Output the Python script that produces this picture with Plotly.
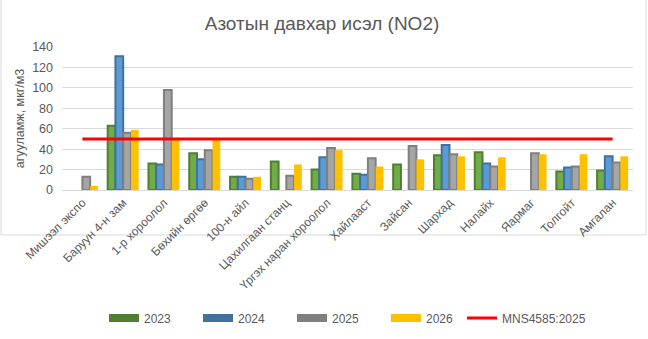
import plotly.graph_objects as go

# Monitoring stations and annual mean NO2 concentrations
stations = [
    "Мишээл экспо", "Баруун 4-н зам", "1-р хороолол", "Бөхийн өргөө",
    "100-н айл", "Цахилгаан станц", "Үргэх наран хороолол", "Хайлааст",
    "Зайсан", "Шархад", "Налайх", "Яармаг", "Толгойт", "Амгалан",
]
no2_2023 = [None, 63, 26, 36, 13, 28, 20, 16, 25, 34, 37, None, 18, 19]
no2_2024 = [None, 131, 25, 30, 13, None, 32, 15, None, 44, 26, None, 22, 33]
no2_2025 = [13, 56, 98, 39, 11, 14, 41, 31, 43, 35, 23, 36, 23, 27]
no2_2026 = [4, 59, 50, 49, 13, 25, 39, 23, 30, 33, 32, 35, 35, 33]
standard_name = "MNS4585:2025"
standard_value = [50] * len(stations)

y_ticks = [0, 20, 40, 60, 80, 100, 120, 140]

FONT = "Liberation Sans"
TXT = "#595959"

series = [
    ("2023", no2_2023, "#70AD47", "#507E32", 2),
    ("2024", no2_2024, "#5B9BD5", "#41719C", 2),
    ("2025", no2_2025, "#A5A5A5", "#7F7F7F", 2),
    ("2026", no2_2026, "#FFC000", "#FFC000", 0),
]

fig = go.Figure()
for name, vals, fill, edge, lw in series:
    fig.add_trace(go.Bar(
        x=stations, y=vals, name=name, showlegend=False,
        marker=dict(color=fill, line=dict(color=edge, width=lw)),
    ))

# Wide rectangular legend keys for the bar series
for name, vals, fill, edge, lw in series:
    fig.add_trace(go.Scatter(
        x=[stations[0]], y=[None], name=name, mode="lines",
        line=dict(color=edge if lw else fill, width=8),
        legend="legend",
    ))

fig.add_trace(go.Scatter(
    x=stations, y=standard_value, name=standard_name, mode="lines",
    line=dict(color="#FF0000", width=3), legend="legend2",
))

W, H = 648, 339
L, R, T, B = 62, 15, 47, 149
pw, ph = W - L - R, H - T - B

# Light border around the whole chart area
fig.add_shape(
    type="rect", xref="paper", yref="paper",
    x0=(1 - L) / pw, x1=(646 - L) / pw,
    y0=(H - T - 337) / ph, y1=(H - T - 1) / ph,
    line=dict(color="#D9D9D9", width=1), layer="below",
)

legend_common = dict(
    orientation="h", xref="container", yref="container",
    xanchor="left", y=(H - 318) / H, yanchor="middle",
    font=dict(size=12, color=TXT, family=FONT),
    bgcolor="rgba(0,0,0,0)", itemclick=False, itemdoubleclick=False,
)

fig.update_layout(
    width=W, height=H,
    margin=dict(l=L, r=R, t=T, b=B),
    paper_bgcolor="white", plot_bgcolor="white",
    font=dict(family=FONT, color=TXT, size=11),
    title=dict(
        text="Азотын давхар исэл (NO2)",
        x=322 / W, xanchor="center", y=1 - 23 / H, yanchor="middle",
        font=dict(size=19, color=TXT, family=FONT),
    ),
    barmode="group", bargap=0.24, bargroupgap=0.0,
    showlegend=True,
    legend=dict(x=104 / W, entrywidth=49, entrywidthmode="pixels",
                **legend_common),
    legend2=dict(x=462 / W, **legend_common),
    xaxis=dict(
        tickangle=-45, showgrid=False, showline=True, linecolor="#D9D9D9",
        linewidth=1, ticks="", automargin=False,
        tickfont=dict(size=12, color=TXT, family=FONT),
    ),
    yaxis=dict(
        range=[0, 140], tickvals=y_ticks, showgrid=True, gridcolor="#D9D9D9",
        gridwidth=1, zeroline=False, showline=False, ticks="", automargin=False,
        ticklabelstandoff=8,
        tickfont=dict(size=12.5, color=TXT, family=FONT),
        title=dict(text="агууламж, мкг/м3", standoff=4,
                   font=dict(size=12.5, color=TXT, family=FONT)),
    ),
)

fig.write_html("out.html")
